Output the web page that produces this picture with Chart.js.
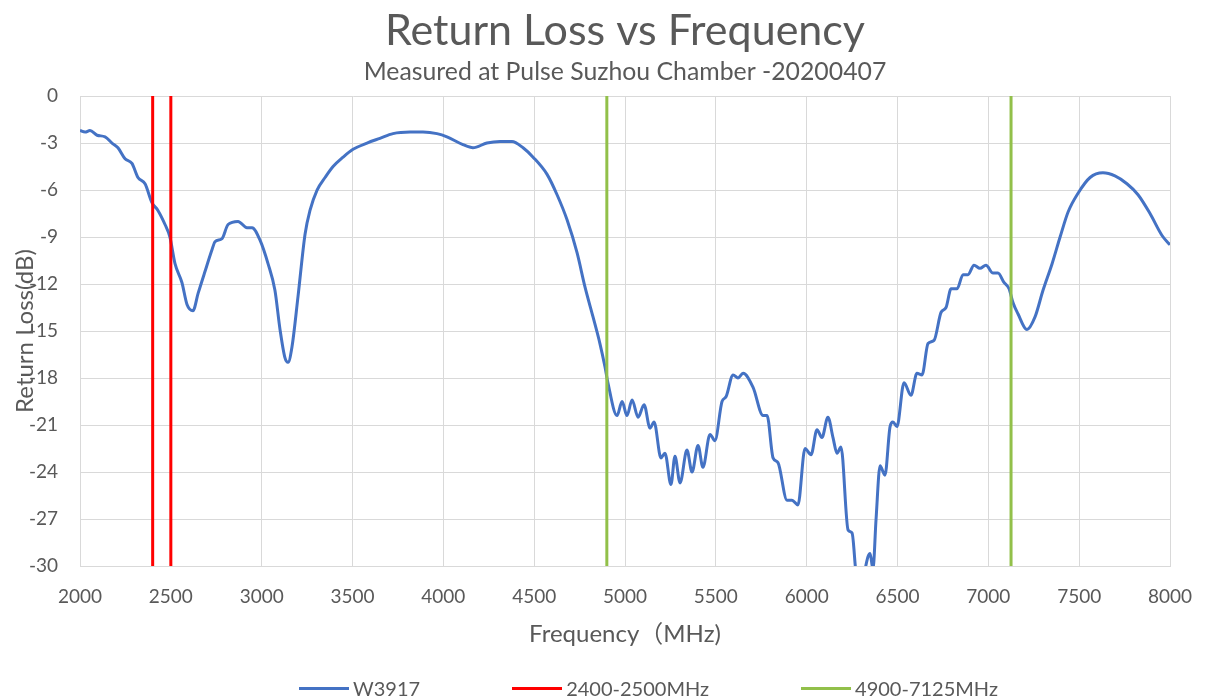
<!DOCTYPE html>
<html>
<head>
<meta charset="utf-8">
<script src="https://cdn.jsdelivr.net/npm/chart.js@4/dist/chart.umd.min.js"></script>
<style>
  html, body { margin: 0; padding: 0; background: #ffffff; }
  #wrap { position: relative; width: 1208px; height: 700px; }
  #legend {
    position: absolute; left: 0; top: 672px; width: 1208px; height: 32px;
    display: flex; justify-content: center; align-items: center; gap: 92px;
    padding-left: 89px; box-sizing: border-box;
    font-family: Lato, "Noto Sans", sans-serif; font-size: 20px; color: #595959;
  }
  .item { display: flex; align-items: center; }
  .swatch { width: 50px; height: 3px; margin-right: 4px; }
</style>
</head>
<body>
<div id="wrap">
  <canvas id="c" width="1208" height="700"></canvas>
  <div id="legend"></div>
</div>
<script>
// ---- data ----
const freqMHz = [
  2000, 2028, 2055, 2094, 2138, 2176, 2209, 2248, 2286, 2319, 2358, 2396, 2429, 2468, 2495,
  2523, 2561, 2589, 2622, 2650, 2688, 2727, 2743, 2782, 2815, 2870, 2919, 2947, 2991, 3035,
  3073, 3101, 3128, 3145, 3167, 3200, 3239, 3266, 3305, 3349, 3393, 3448, 3503, 3580, 3651,
  3723, 3817, 3888, 3965, 4020, 4108, 4163, 4240, 4312, 4378, 4439, 4494, 4571, 4626, 4681,
  4736, 4780, 4824, 4862, 4890, 4906, 4956, 4984, 5011, 5039, 5072, 5105, 5138, 5160, 5198,
  5220, 5253, 5275, 5303, 5341, 5369, 5402, 5429, 5468, 5495, 5534, 5556, 5595, 5622, 5650,
  5705, 5760, 5782, 5815, 5842, 5892, 5919, 5952, 5991, 6024, 6057, 6084, 6117, 6145, 6167,
  6189, 6228, 6250, 6272, 6294, 6316, 6338, 6349, 6365, 6382, 6404, 6431, 6459, 6475, 6497,
  6536, 6574, 6607, 6635, 6668, 6701, 6740, 6767, 6795, 6828, 6861, 6888, 6921, 6954, 6987,
  7026, 7053, 7086, 7114, 7136, 7163, 7213, 7257, 7301, 7351, 7395, 7439, 7494, 7560, 7631,
  7697, 7763, 7824, 7890, 7956, 8000
];
const returnLossDb = [
  -2.2, -2.3, -2.2, -2.5, -2.6, -3.0, -3.3, -4.0, -4.3, -5.2, -5.6, -6.8, -7.3, -8.2, -9.0,
  -10.7, -11.9, -13.3, -13.7, -12.6, -11.2, -9.8, -9.3, -9.1, -8.2, -8.0, -8.4, -8.4, -9.2, -10.7,
  -12.4, -14.9, -16.7, -17.0, -16.0, -12.8, -8.8, -7.3, -6.0, -5.2, -4.5, -3.9, -3.4, -3.0, -2.7,
  -2.4, -2.3, -2.3, -2.4, -2.6, -3.1, -3.3, -3.0, -2.9, -2.9, -3.3, -3.9, -5.0, -6.3, -7.9,
  -10.0, -12.2, -14.1, -15.8, -17.3, -18.3, -20.4, -19.5, -20.4, -19.4, -20.5, -19.7, -21.2, -20.8, -23.1,
  -22.8, -24.8, -23.0, -24.7, -22.6, -24.0, -22.3, -23.7, -21.6, -22.0, -19.5, -19.2, -17.8, -18.0, -17.7,
  -18.6, -20.4, -20.4, -23.1, -23.4, -25.8, -25.8, -26.1, -22.5, -22.9, -21.3, -21.8, -20.5, -21.8, -22.8,
  -22.4, -27.7, -27.9, -30.5, -31.5, -30.5, -29.4, -29.2, -30.2, -27.0, -23.6, -24.2, -21.1, -20.8, -21.1,
  -18.3, -19.1, -17.7, -17.8, -15.8, -15.6, -13.8, -13.5, -12.3, -12.3, -11.4, -11.4, -10.8, -11.0, -10.8,
  -11.3, -11.3, -11.9, -12.3, -13.2, -13.9, -14.9, -14.1, -12.4, -10.7, -9.0, -7.4, -6.2, -5.2, -4.9,
  -5.1, -5.6, -6.3, -7.5, -8.9, -9.5
];
const band24Edges = [2400, 2500];
const band5Edges = [4900, 7125];
const seriesLabels = ['W3917', '2400-2500MHz', '4900-7125MHz'];
const seriesColors = ['#4472C4', '#FF0000', '#92C04A'];
const yRange = [-30, 0];
const yStep = 3;
const xRange = [2000, 8000];
const xStep = 500;

function bandLines(edges) {
  const pts = [];
  edges.forEach((f, i) => {
    if (i > 0) pts.push({ x: f, y: null });
    pts.push({ x: f, y: yRange[1] });
    pts.push({ x: f, y: yRange[0] });
  });
  return pts;
}

const FONT = 'Lato, "Noto Sans", "Noto Sans CJK SC", sans-serif';
const TXT = '#595959';
const GRID = '#d9d9d9';

// center title & subtitle over the plot area (as in the reference)
const centerTitles = {
  id: 'centerTitles',
  afterLayout(chart) {
    const a = chart.chartArea;
    chart.boxes.forEach(b => {
      if (b.options && typeof b.options.text === 'string' && b.position === 'top') {
        b.left = a.left; b.right = a.right; b.width = a.right - a.left;
      }
    });
  }
};

const chart = new Chart(document.getElementById('c'), {
  type: 'line',
  data: {
    datasets: [
      {
        label: seriesLabels[0],
        data: freqMHz.map((f, i) => ({ x: f, y: returnLossDb[i] })),
        borderColor: seriesColors[0], backgroundColor: seriesColors[0],
        borderWidth: 3, pointRadius: 0, cubicInterpolationMode: 'monotone', order: 2
      },
      {
        label: seriesLabels[1],
        data: bandLines(band24Edges),
        borderColor: seriesColors[1], backgroundColor: seriesColors[1],
        borderWidth: 3, pointRadius: 0, spanGaps: false, order: 1
      },
      {
        label: seriesLabels[2],
        data: bandLines(band5Edges),
        borderColor: seriesColors[2], backgroundColor: seriesColors[2],
        borderWidth: 3, pointRadius: 0, spanGaps: false, order: 1
      }
    ]
  },
  plugins: [centerTitles],
  options: {
    responsive: false,
    animation: false,
    layout: { padding: { left: 0, right: 38, top: 5, bottom: 40 } },
    plugins: {
      legend: { display: false },
      tooltip: { enabled: false },
      title: {
        display: true, text: 'Return Loss vs Frequency', color: TXT,
        font: { family: FONT, size: 43, weight: 'normal' }, padding: { top: 0, bottom: 0 }
      },
      subtitle: {
        display: true, text: 'Measured at Pulse Suzhou Chamber -20200407', color: TXT,
        font: { family: FONT, size: 24.8, weight: 'normal' }, padding: { top: 0.5, bottom: 9.2 }
      }
    },
    scales: {
      x: {
        type: 'linear', min: xRange[0], max: xRange[1],
        ticks: { stepSize: xStep, color: TXT, font: { family: FONT, size: 19 }, padding: 3, maxRotation: 0,
                 callback: (v) => String(v) },
        grid: { color: GRID, drawTicks: true, tickLength: 16, tickColor: 'rgba(0,0,0,0)', lineWidth: 1 },
        border: { color: GRID },
        title: { display: true, text: 'Frequency（MHz)', color: TXT, font: { family: FONT, size: 24 }, padding: { top: 0, bottom: 11.6 } },
        afterFit: (s) => { s.height = 94; }
      },
      y: {
        min: yRange[0], max: yRange[1],
        ticks: { stepSize: yStep, color: TXT, font: { family: FONT, size: 19 }, padding: 22,
                 callback: (v) => String(v) },
        grid: { color: GRID, drawTicks: false, lineWidth: 1 },
        border: { color: GRID },
        title: { display: true, text: 'Return Loss(dB)', color: TXT, font: { family: FONT, size: 24 }, padding: { top: 11, bottom: 0 } },
        afterFit: (s) => { s.width = 80; }
      }
    }
  }
});

// HTML legend built from the chart's datasets
const legendEl = document.getElementById('legend');
chart.data.datasets.forEach(ds => {
  const item = document.createElement('div');
  item.className = 'item';
  const sw = document.createElement('span');
  sw.className = 'swatch';
  sw.style.background = ds.borderColor;
  const t = document.createElement('span');
  t.textContent = ds.label;
  item.appendChild(sw); item.appendChild(t);
  legendEl.appendChild(item);
});
</script>
</body>
</html>
